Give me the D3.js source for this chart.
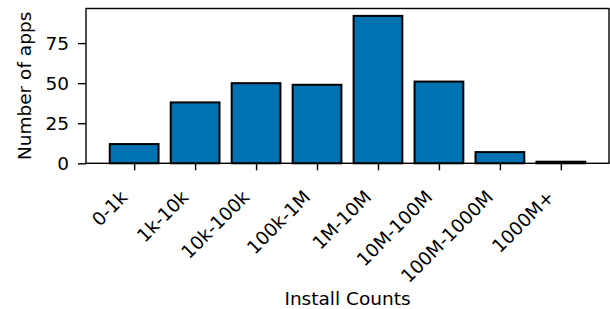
<!DOCTYPE html>
<html>
<head>
<meta charset="utf-8">
<title></title>
<script src="https://d3js.org/d3.v7.min.js"></script>
<style type="text/css">
  body{margin:0;background:#fff;}
  svg{display:block;font-family:"DejaVu Sans",sans-serif;}
</style>
</head>
<body>
<div id='graph-container'></div>
<script type="text/javascript">

var categories = ['0-1k','1k-10k','10k-100k','100k-1M','1M-10M','10M-100M','100M-1000M','1000M+']
var appCounts = [12, 38, 50, 49, 92, 51, 7, 1]
var yTicks = [0, 25, 50, 75]

var width = 610
var height = 309
var margin = {top: 8.5, right: 1, bottom: 145.7, left: 86}
var fontPx = 18.5

var svg = d3.select('#graph-container').append('svg')
  .attr('width', width)
  .attr('height', height)

// matplotlib style limits: bars of width 0.8 plus 5% margin
var xScale = d3.scaleLinear()
  .domain([-0.79, categories.length - 1 + 0.79])
  .range([margin.left, width - margin.right])
var yScale = d3.scaleLinear()
  .domain([0, d3.max(appCounts) * 1.05])
  .range([height - margin.bottom, margin.top])

var barW = xScale(0.8) - xScale(0)

svg.selectAll('rect.bar')
  .data(appCounts)
  .enter()
  .append('rect')
  .attr('class', 'bar')
  .attr('x', (d, i) => xScale(i - 0.4))
  .attr('y', d => yScale(d))
  .attr('width', barW)
  .attr('height', d => yScale(0) - yScale(d))
  .attr('fill', '#0072b2')
  .attr('stroke', '#000')
  .attr('stroke-width', 2)

// y axis
var yAxis = svg.append('g')
  .attr('transform', `translate(${margin.left},0)`)
  .call(d3.axisLeft(yScale).tickValues(yTicks).tickSize(8).tickPadding(9))
yAxis.select('.domain').remove()
yAxis.selectAll('line').attr('stroke', '#000').attr('stroke-width', 1.4)
yAxis.selectAll('text').attr('font-size', fontPx).attr('fill', '#000')
  .attr('font-family', '"DejaVu Sans", sans-serif')

// x axis
var xAxis = svg.append('g')
  .attr('transform', `translate(0,${yScale(0)})`)
  .call(d3.axisBottom(xScale).tickValues(d3.range(categories.length))
    .tickFormat(i => categories[i]).tickSize(7))
xAxis.select('.domain').remove()
xAxis.selectAll('line').attr('stroke', '#000').attr('stroke-width', 1.4)
xAxis.selectAll('text')
  .attr('font-size', fontPx)
  .attr('fill', '#000')
  .attr('font-family', '"DejaVu Sans", sans-serif')
  .attr('text-anchor', 'end')
  .attr('dy', null)
  .attr('x', -6)
  .attr('y', 35)
  .attr('transform', 'rotate(-45 -6 35)')

// frame
svg.append('rect')
  .attr('x', margin.left)
  .attr('y', margin.top)
  .attr('width', width - margin.right - margin.left)
  .attr('height', yScale(0) - margin.top)
  .attr('fill', 'none')
  .attr('stroke', '#000')
  .attr('stroke-width', 1.4)

svg.append('text')
  .attr('transform', `translate(31,${(margin.top + yScale(0)) / 2}) rotate(-90)`)
  .attr('text-anchor', 'middle')
  .attr('font-size', fontPx)
  .text('Number of apps')

svg.append('text')
  .attr('x', (margin.left + width - margin.right) / 2)
  .attr('y', 305)
  .attr('text-anchor', 'middle')
  .attr('font-size', fontPx)
  .text('Install Counts')

</script>
</body>
</html>
